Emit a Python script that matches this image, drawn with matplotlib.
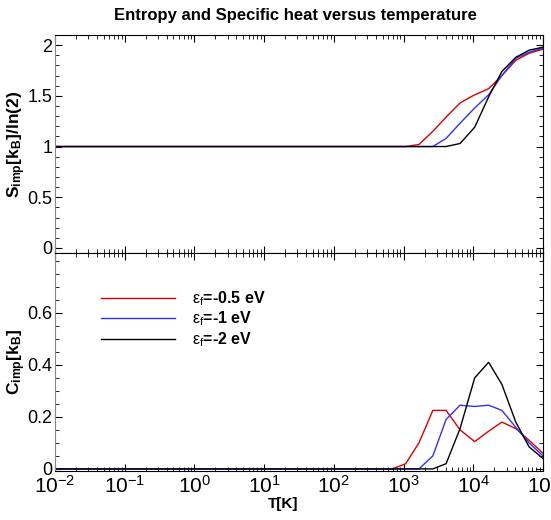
import numpy as np
import matplotlib
matplotlib.use("Agg")
import matplotlib.pyplot as plt
from matplotlib.ticker import LogLocator, MultipleLocator, NullFormatter

plt.rcParams["font.family"] = "Liberation Sans"
plt.rcParams["mathtext.fontset"] = "custom"
plt.rcParams["mathtext.rm"] = "Liberation Sans"
plt.rcParams["mathtext.it"] = "Liberation Sans:italic"
plt.rcParams["mathtext.bf"] = "Liberation Sans:bold"

# temperature grid (K)
T = [0.01, 692, 1072, 1660, 2630, 4070, 6460, 10470, 16600, 25700, 40700, 63100, 100000]

# entropy S_imp / ln(2)
s_red = [1.0, 1.0, 1.0, 1.02, 1.15, 1.29, 1.43, 1.51, 1.57, 1.70, 1.85, 1.92, 1.96]
s_blue = [1.0, 1.0, 1.0, 1.0, 1.0, 1.08, 1.23, 1.38, 1.51, 1.70, 1.87, 1.93, 1.97]
s_black = [1.0, 1.0, 1.0, 1.0, 1.0, 1.0, 1.03, 1.19, 1.49, 1.74, 1.88, 1.95, 1.98]

# specific heat C_imp
c_red = [0.0, 0.0, 0.02, 0.10, 0.225, 0.225, 0.15, 0.105, 0.145, 0.18, 0.155, 0.11, 0.06]
c_blue = [0.0, 0.0, 0.0, 0.0, 0.05, 0.19, 0.245, 0.24, 0.245, 0.225, 0.16, 0.10, 0.05]
c_black = [0.0, 0.0, 0.0, 0.0, 0.0, 0.02, 0.155, 0.35, 0.41, 0.325, 0.18, 0.085, 0.04]

labels = [r"$\mathrm{\varepsilon_f}$=-0.5 eV",
          r"$\mathrm{\varepsilon_f}$=-1 eV",
          r"$\mathrm{\varepsilon_f}$=-2 eV"]
colors = ["#dd0000", "#3030ff", "#000000"]

fig = plt.figure(figsize=(5.51, 5.2), dpi=100)
ax1 = fig.add_axes([55 / 551, 1 - 253 / 520, 488 / 551, 218 / 520])
ax2 = fig.add_axes([55 / 551, 1 - 471 / 520, 488 / 551, 218 / 520])

for ys, c in zip([s_red, s_blue, s_black], colors):
    ax1.plot(T, ys, color=c, lw=1.0)
for ys, c, lab in zip([c_red, c_blue, c_black], colors, labels):
    ax2.plot(T, ys, color=c, lw=1.0, label=lab)

for ax in (ax1, ax2):
    ax.set_xscale("log")
    ax.set_xlim(1e-2, 1e5)
    ax.xaxis.set_major_locator(LogLocator(base=10, numticks=20))
    ax.xaxis.set_minor_locator(LogLocator(base=10, subs=np.arange(2, 10), numticks=20))
    ax.xaxis.set_minor_formatter(NullFormatter())
    ax.tick_params(which="both", direction="in", top=True, right=True)
    ax.tick_params(which="major", length=5, labelsize=13)
    ax.tick_params(which="minor", length=3)
    ax.tick_params(axis="y", pad=2)
    ax.spines["left"].set_color("#888888")

ax1.set_ylim(-0.05, 2.1)
ax1.yaxis.set_minor_locator(MultipleLocator(0.1))
ax1.set_yticks([0, 0.5, 1, 1.5, 2])
ax1.set_yticklabels(["0", "0.5", "1", "1.5", "2"])
ax1.tick_params(axis="x", labelbottom=False)
ax1.set_ylabel(r"$\mathbf{S_{imp}[k_B]/ln(2)}$", fontsize=12.5)
ax1.yaxis.set_label_coords(-0.056, 0.5)

ax2.set_ylim(-0.008, 0.83)
ax2.set_yticks([0, 0.2, 0.4, 0.6])
ax2.set_yticklabels(["0", "0.2", "0.4", "0.6"])
ax2.yaxis.set_minor_locator(MultipleLocator(0.05))
ax2.tick_params(axis="x", labelsize=15, pad=3)
ax2.set_ylabel(r"$\mathbf{C_{imp}[k_B]}$", fontsize=12.5)
ax2.yaxis.set_label_coords(-0.056, 0.5)
ax2.set_xlabel("T[K]", fontsize=11, fontweight="bold")
ax2.xaxis.set_label_coords(0.467, -0.12)

ax2.legend(loc="upper left", bbox_to_anchor=(0.065, 0.90), frameon=False,
           prop={"size": 11.5, "weight": "bold"}, handlelength=4.6,
           handletextpad=1.1, labelspacing=0.12)

fig.text(0.537, 0.97, "Entropy and Specific heat versus temperature",
         ha="center", va="center", fontsize=12, fontweight="bold")

fig.savefig("out.png", dpi=100)
